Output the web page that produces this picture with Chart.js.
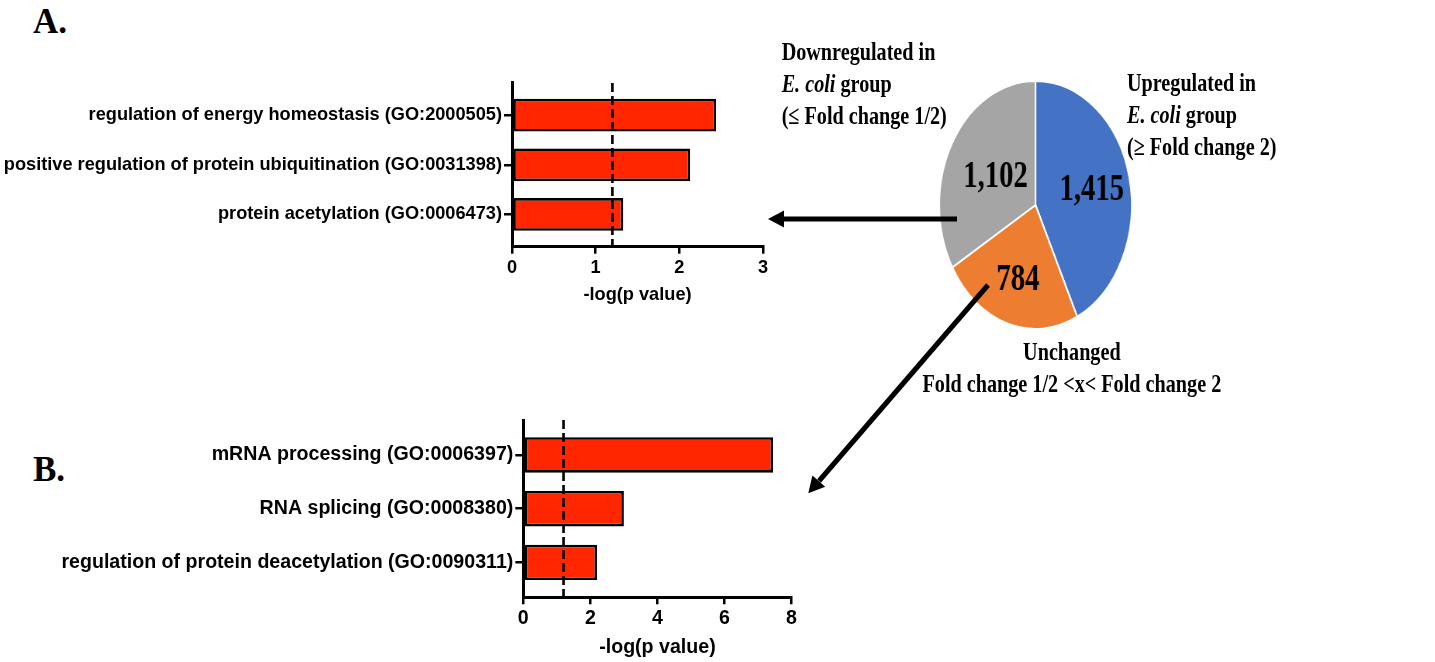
<!DOCTYPE html>
<html>
<head>
<meta charset="utf-8">
<script src="https://cdn.jsdelivr.net/npm/chart.js@4.4.1/dist/chart.umd.min.js"></script>
<style>
body{margin:0;width:1435px;height:662px;background:#fff;position:relative;overflow:hidden;font-family:'Liberation Serif','Times New Roman',serif}
canvas{position:absolute}
.pn{position:absolute;font:bold 35px 'Liberation Serif',serif;color:#000}
#pieBox{position:absolute;left:770px;top:0;width:857px;height:662px;transform:scaleX(0.776);transform-origin:0 0}
.lbl{position:absolute;font:bold 26px/32px 'Liberation Serif',serif;color:#000;white-space:nowrap}
svg{position:absolute;left:0;top:0}
</style>
</head>
<body>
<div class="pn" style="left:33px;top:2px">A.</div>
<div class="pn" style="left:33px;top:450px">B.</div>

<canvas id="cA" width="780" height="240" style="left:0;top:70px"></canvas>
<canvas id="cB" width="800" height="262" style="left:0;top:400px"></canvas>

<div id="pieBox">
  <canvas id="cP" width="857" height="662" style="left:0;top:0"></canvas>
  <div class="lbl" style="left:15px;top:36px">Downregulated in<br><i>E. coli</i> group<br>(≤ Fold change 1/2)</div>
  <div class="lbl" style="left:460px;top:67px">Upregulated in<br><i>E. coli</i> group<br>(≥ Fold change 2)</div>
  <div class="lbl" style="left:89px;top:336px;width:600px;text-align:center">Unchanged<br>Fold change 1/2 &lt;x&lt; Fold change 2</div>
</div>

<!-- arrows pie -> bar panels -->
<svg width="1435" height="662">
  <line x1="957" y1="219" x2="782" y2="219" stroke="#000" stroke-width="5"/>
  <polygon points="768,219 784,210.5 784,227.5" fill="#000"/>
  <line x1="988" y1="285" x2="819" y2="481" stroke="#000" stroke-width="5"/>
  <polygon points="808.3,493.3 825.2,486.8 812.4,475.6" fill="#000"/>
</svg>

<script>
// ─── DATA ────────────────────────────────────────────────────
const goTermsA=['regulation of energy homeostasis (GO:2000505)','positive regulation of protein ubiquitination (GO:0031398)','protein acetylation (GO:0006473)'];
const logPA=[2.44,2.13,1.33];
const goTermsB=['mRNA processing (GO:0006397)','RNA splicing (GO:0008380)','regulation of protein deacetylation (GO:0090311)'];
const logPB=[7.45,3.0,2.2];
const cutoff=1.2;// dashed significance line
const xMaxA=3,xStepA=1;
const xMaxB=8,xStepB=2;
const pieGroups=['Upregulated','Unchanged','Downregulated'];
const pieCounts=[1415,784,1102];
const pieColors=['#4472C4','#ED7D31','#A5A5A5'];

const SANS="'Liberation Sans', Arial, sans-serif";
const SERIF="'Liberation Serif', 'Times New Roman', serif";
Chart.defaults.font.family=SANS;
Chart.defaults.color='#000';
Chart.defaults.animation=false;

// dashed vertical cutoff line, drawn through the x scale
const cutoffLine={id:'cutoffLine',
  afterDatasetsDraw(chart,args,o){
    const x=chart.scales.x.getPixelForValue(o.value);const a=chart.chartArea;const ctx=chart.ctx;
    ctx.save();ctx.strokeStyle='#000';ctx.lineWidth=2.6;ctx.setLineDash([9,4]);
    ctx.beginPath();ctx.moveTo(x,a.top);ctx.lineTo(x,a.bottom);ctx.stroke();ctx.restore()}
};

// horizontal bar panel; index axis is linear (-0.65..n-0.35) so the bars sit with Prism-like end gaps
function barCfg(labels,values,xMax,xStep,g){
  const fnt={size:g.fs,weight:'bold'};
  return{type:'bar',
    data:{datasets:[{data:values.map((v,i)=>({x:v,y:i})),backgroundColor:'#FF2600',borderColor:'#000',borderWidth:2.6,borderSkipped:false,barPercentage:0.66,categoryPercentage:1}]},
    options:{responsive:false,indexAxis:'y',layout:{padding:{left:0,top:g.top,right:g.right,bottom:0}},
      plugins:{legend:{display:false},tooltip:{enabled:false},cutoffLine:{value:cutoff}},
      scales:{
        y:{type:'linear',reverse:true,offset:false,min:-0.65,max:labels.length-0.35,afterFit(s){s.width=g.yW},
          afterBuildTicks(s){s.ticks=labels.map((_,i)=>({value:i}))},
          border:{display:true,color:'#000',width:3},
          grid:{offset:false,drawOnChartArea:false,drawTicks:true,tickLength:8,color:'#000',lineWidth:2.5},
          ticks:{color:'#000',padding:2,font:fnt,callback:v=>labels[v]}},
        x:{type:'linear',min:0,max:xMax,afterFit(s){s.height=g.xH},
          border:{display:true,color:'#000',width:3},
          grid:{drawOnChartArea:false,drawTicks:true,tickLength:7,color:'#000',lineWidth:2.5},
          ticks:{stepSize:xStep,color:'#000',padding:3,font:fnt},
          title:{display:true,text:'-log(p value)',color:'#000',font:fnt,padding:{top:0,bottom:g.tPad}}}
      }},
    plugins:[cutoffLine]};
}

new Chart(document.getElementById('cA'),barCfg(goTermsA,logPA,xMaxA,xStepA,{fs:18.2,top:12.7,right:17,yW:512,xH:63.3,tPad:4.2}));
new Chart(document.getElementById('cB'),barCfg(goTermsB,logPB,xMaxB,xStepB,{fs:19.6,top:20,right:8.3,yW:523.3,xH:64.7,tPad:2.6}));

// counts written inside each slice
const sliceCounts={id:'sliceCounts',
  afterDatasetsDraw(chart,args,o){
    const ctx=chart.ctx;const meta=chart.getDatasetMeta(0);
    ctx.save();ctx.font='bold 37px '+SERIF;ctx.fillStyle='#000';ctx.textAlign='center';ctx.textBaseline='middle';
    meta.data.forEach((arc,i)=>{
      const p=arc.getProps(['x','y','startAngle','endAngle','outerRadius'],true);
      const m=(p.startAngle+p.endAngle)/2,r=p.outerRadius*o.ratio[i];
      ctx.fillText(pieCounts[i].toLocaleString('en-US'),p.x+Math.cos(m)*r,p.y+Math.sin(m)*r+2)});
    ctx.restore()}
};

new Chart(document.getElementById('cP'),{type:'pie',
  data:{labels:pieGroups,datasets:[{data:pieCounts,backgroundColor:pieColors,borderColor:'#fff',borderWidth:2}]},
  options:{responsive:false,layout:{padding:{left:217.1,right:389.9,top:80,bottom:332}},
    plugins:{legend:{display:false},tooltip:{enabled:false},sliceCounts:{ratio:[0.6,0.62,0.48]}}},
  plugins:[sliceCounts]});
</script>
</body>
</html>
